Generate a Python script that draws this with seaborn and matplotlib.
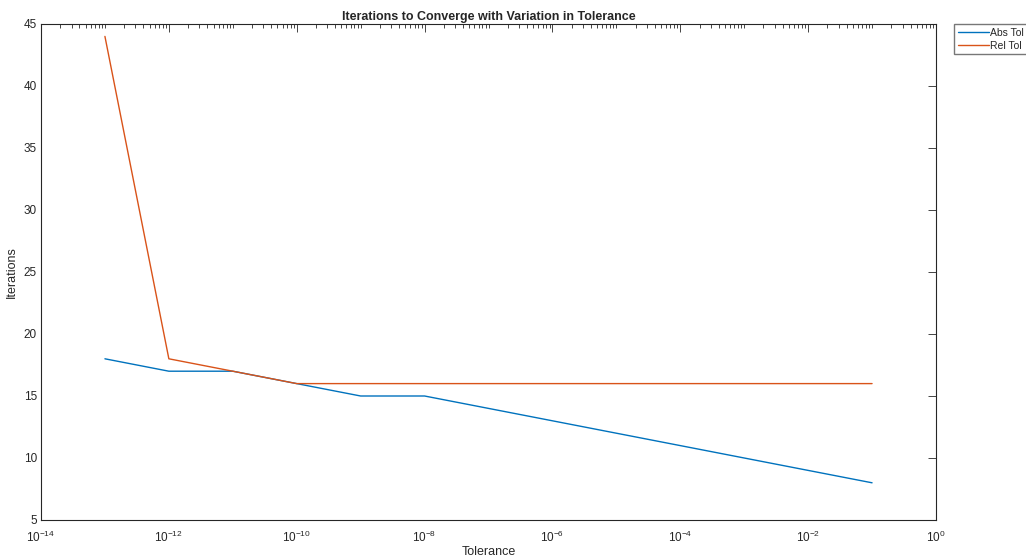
import numpy as np
import pandas as pd
import matplotlib
matplotlib.use("Agg")
import matplotlib.pyplot as plt
import seaborn as sns
from matplotlib.ticker import LogLocator, NullFormatter, FixedLocator

sns.set_style("white")
plt.rcParams['font.family'] = ['Liberation Sans', 'DejaVu Sans']
plt.rcParams['axes.unicode_minus'] = False
plt.rcParams['mathtext.fontset'] = 'custom'
plt.rcParams['mathtext.rm'] = 'Liberation Sans'

tolerance = [1e-13, 1e-12, 1e-11, 1e-10, 1e-9, 1e-8, 1e-7, 1e-6, 1e-5, 1e-4, 1e-3, 1e-2, 1e-1]
abs_tol_iters = [18, 17, 17, 16, 15, 15, 14, 13, 12, 11, 10, 9, 8]
rel_tol_iters = [44, 18, 17, 16, 16, 16, 16, 16, 16, 16, 16, 16, 16]
series_names = ["Abs Tol", "Rel Tol"]

df = pd.DataFrame({
    "Tolerance": tolerance * 2,
    "Iterations": abs_tol_iters + rel_tol_iters,
    "Series": [series_names[0]] * len(tolerance) + [series_names[1]] * len(tolerance),
})

fig = plt.figure(figsize=(10.26, 5.58), dpi=100)
ax = fig.add_axes([41/1026, 1 - 520/558, (936 - 41)/1026, (520 - 24)/558])

sns.lineplot(data=df, x="Tolerance", y="Iterations", hue="Series",
             palette=["#0072BD", "#D95319"], linewidth=1.0, ax=ax, legend=True)

ax.set_xscale("log")
ax.set_xlim(1e-14, 1e0)
ax.set_ylim(5, 45)
ax.xaxis.set_major_locator(FixedLocator([10.0**e for e in range(-14, 1, 2)]))
ax.xaxis.set_minor_locator(LogLocator(base=10, subs=np.arange(1, 10), numticks=100))
ax.xaxis.set_minor_formatter(NullFormatter())
ax.set_yticks(range(5, 46, 5))

for s in ax.spines.values():
    s.set_color("#262626")
    s.set_linewidth(0.8)
ax.tick_params(axis="both", which="both", direction="in", top=True, right=True,
               labelsize=8.5, colors="#262626", width=0.6)
ax.tick_params(which="major", length=6)
ax.tick_params(which="minor", length=3)
ax.tick_params(axis="x", which="major", pad=7)
ax.tick_params(axis="y", which="major", pad=3)

ax.set_title("Iterations to Converge with Variation in Tolerance", fontsize=9,
             fontweight="bold", pad=3)
ax.set_xlabel("Tolerance", fontsize=9, labelpad=1)
ax.set_ylabel("Iterations", fontsize=9, labelpad=4)

handles, labels = ax.get_legend_handles_labels()
ax.legend(handles, labels, loc="upper left", bbox_to_anchor=(954/1026, 1 - 24/558),
          bbox_transform=fig.transFigure, fontsize=7.5, frameon=True, fancybox=False,
          edgecolor="#555555", borderpad=0.35, handlelength=3.0, handletextpad=0.1,
          labelspacing=0.3, borderaxespad=0)

fig.savefig("out.png", dpi=100)
